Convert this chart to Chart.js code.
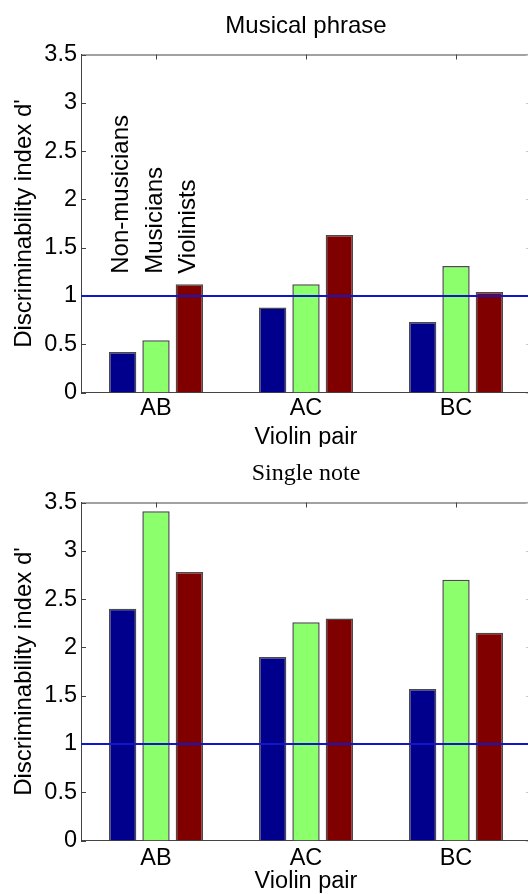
<!DOCTYPE html>
<html>
<head>
<meta charset="utf-8">
<script src="https://cdn.jsdelivr.net/npm/chart.js@4/dist/chart.umd.min.js"></script>
<style>
  html, body { margin: 0; padding: 0; background: #ffffff; overflow: hidden; width: 528px; height: 894px; }
  #wrap { position: relative; width: 528px; height: 894px; overflow: hidden; }
  canvas { position: absolute; left: 0; }
  #c1 { top: 0; }
  #c2 { top: 447px; }
</style>
</head>
<body>
<div id="wrap">
  <canvas id="c1" width="540" height="447"></canvas>
  <canvas id="c2" width="540" height="447"></canvas>
</div>
<script>
// ---------------- data ----------------
const categories = ['AB', 'AC', 'BC'];
const groups = ['Non-musicians', 'Musicians', 'Violinists'];

const phraseNonMusicians = [0.42, 0.88, 0.73];
const phraseMusicians    = [0.54, 1.12, 1.31];
const phraseViolinists   = [1.12, 1.63, 1.04];

const noteNonMusicians = [2.40, 1.90, 1.57];
const noteMusicians    = [3.41, 2.26, 2.70];
const noteViolinists   = [2.78, 2.30, 2.15];

const yTickValues = [0, 0.5, 1, 1.5, 2, 2.5, 3, 3.5];
const yTickLabels = ['0', '0.5', '1', '1.5', '2', '2.5', '3', '3.5'];
const referenceLevel = 1;

const panelTitles = ['Musical phrase', 'Single note'];
const yAxisTitle = "Discriminability index d'";
const xAxisTitle = 'Violin pair';

// ---------------- styles ----------------
const SANS = "'Liberation Sans', Arial, Helvetica, sans-serif";
const SERIF = "'Liberation Serif', 'Times New Roman', Times, serif";
const groupColors = ['#00008c', '#8cff6c', '#800000'];
const edgeColor = '#4a4a4a';
const axisColor = '#444444';
const annotationLevel = 1.23;

Chart.defaults.font.family = SANS;
Chart.defaults.color = '#000000';

const framePlugin = {
  id: 'frame',
  beforeDatasetsDraw(chart) {
    const {ctx, chartArea: a, scales: {x, y}} = chart;
    ctx.save();
    ctx.lineWidth = 1;
    // top and right frame lines
    ctx.strokeStyle = axisColor;
    ctx.beginPath();
    ctx.moveTo(a.left, a.top + 0.5);
    ctx.lineTo(a.right, a.top + 0.5);
    ctx.moveTo(a.right - 0.5, a.top);
    ctx.lineTo(a.right - 0.5, a.bottom);
    ctx.stroke();
    // inward ticks on the left
    ctx.beginPath();
    y.ticks.forEach(t => {
      const py = Math.round(y.getPixelForValue(t.value)) + 0.5;
      ctx.moveTo(a.left, py);
      ctx.lineTo(a.left + 5, py);
    });
    // inward ticks top and bottom
    x.ticks.forEach((t, i) => {
      const px = Math.round(x.getPixelForTick(i)) + 0.5;
      ctx.moveTo(px, a.top);
      ctx.lineTo(px, a.top + 5);
      ctx.moveTo(px, a.bottom);
      ctx.lineTo(px, a.bottom - 5);
    });
    ctx.stroke();
    // faint inward ticks on the right
    ctx.strokeStyle = '#c8c8c8';
    ctx.beginPath();
    y.ticks.forEach(t => {
      const py = Math.round(y.getPixelForValue(t.value)) + 0.5;
      ctx.moveTo(a.right, py);
      ctx.lineTo(a.right - 5, py);
    });
    ctx.stroke();
    ctx.restore();
  },
  afterDatasetsDraw(chart, args, opts) {
    const {ctx, chartArea: a, scales: {y}} = chart;
    ctx.save();
    // reference line
    const py = y.getPixelForValue(referenceLevel);
    ctx.strokeStyle = '#1414c8';
    ctx.lineWidth = 2;
    ctx.beginPath();
    ctx.moveTo(a.left, py);
    ctx.lineTo(a.right, py);
    ctx.stroke();
    // panel title
    ctx.fillStyle = '#000';
    ctx.textAlign = 'center';
    ctx.textBaseline = 'middle';
    ctx.font = opts.titleFont;
    ctx.fillText(opts.title, (a.left + a.right) / 2, opts.titleY);
    // group annotations
    if (opts.annotate) {
      ctx.font = '24px ' + SANS;
      ctx.textAlign = 'left';
      ctx.textBaseline = 'middle';
      const ay = y.getPixelForValue(annotationLevel);
      chart.data.datasets.forEach((ds, i) => {
        const bar = chart.getDatasetMeta(i).data[0];
        ctx.save();
        ctx.translate(bar.x - 1, ay);
        ctx.rotate(-Math.PI / 2);
        ctx.fillText(ds.label, 0, 0);
        ctx.restore();
      });
    }
    ctx.restore();
  }
};

function makeChart(canvasId, series, cfg) {
  const datasets = series.map((vals, i) => ({
    label: groups[i],
    data: vals,
    backgroundColor: groupColors[i],
    borderColor: edgeColor,
    borderWidth: 1.5,
    categoryPercentage: 0.667,
    barPercentage: 0.82
  }));
  return new Chart(document.getElementById(canvasId), {
    type: 'bar',
    data: { labels: categories, datasets },
    plugins: [framePlugin],
    options: {
      responsive: false,
      devicePixelRatio: 1,
      animation: false,
      events: [],
      layout: { padding: { top: cfg.areaTop, left: 0, right: 9, bottom: 0 } },
      plugins: {
        legend: { display: false },
        tooltip: { enabled: false },
        title: { display: false },
        frame: { title: cfg.title, titleFont: cfg.titleFont, titleY: cfg.titleY, annotate: cfg.annotate }
      },
      scales: {
        x: {
          offset: true,
          grid: { display: false, drawTicks: false },
          border: { display: true, color: axisColor, width: 1 },
          ticks: { padding: cfg.xTickPad, font: { size: 23.5, lineHeight: 1.2 }, color: '#000', maxRotation: 0 },
          title: { display: true, text: xAxisTitle, font: { size: 23.5, lineHeight: 1.2 }, color: '#000', padding: { top: 0, bottom: cfg.xTitlePad } },
          afterFit(scale) { scale.height = cfg.xHeight; }
        },
        y: {
          min: 0, max: 3.5,
          afterBuildTicks(scale) { scale.ticks = yTickValues.map(v => ({ value: v })); },
          grid: { display: false, drawTicks: false },
          border: { display: true, color: axisColor, width: 1 },
          ticks: {
            padding: 4,
            font: { size: 23.5, lineHeight: 1.2 },
            color: '#000',
            callback(value) { const k = yTickValues.indexOf(value); return k >= 0 ? yTickLabels[k] : ''; }
          },
          title: { display: true, text: yAxisTitle, font: { size: 24, lineHeight: 1.2 }, color: '#000', padding: { top: 10.1, bottom: 0 } },
          afterFit(scale) { scale.width = 81; }
        }
      }
    }
  });
}

makeChart('c1', [phraseNonMusicians, phraseMusicians, phraseViolinists], {
  areaTop: 54.5, xHeight: 54.5, xTickPad: 2.1, xTitlePad: -4.6,
  title: panelTitles[0], titleFont: '24px ' + SANS, titleY: 26, annotate: true
});
makeChart('c2', [noteNonMusicians, noteMusicians, noteViolinists], {
  areaTop: 55.5, xHeight: 53.5, xTickPad: 4.1, xTitlePad: -2.1,
  title: panelTitles[1], titleFont: '24px ' + SERIF, titleY: 27, annotate: false
});
</script>
</body>
</html>
